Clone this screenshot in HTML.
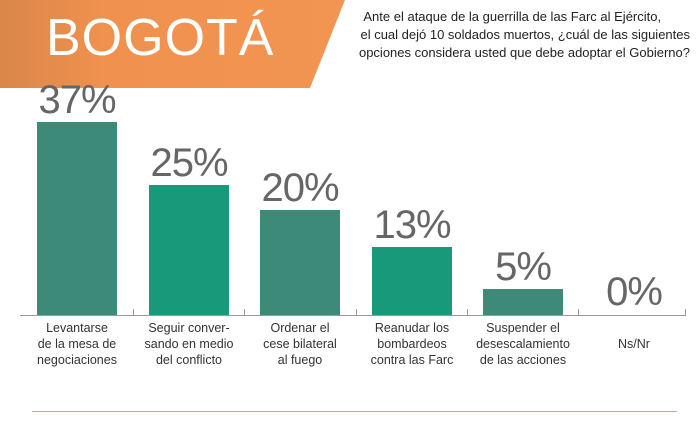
<!DOCTYPE html>
<html><head><style>
body{margin:0;width:700px;height:423px;background:#fff;position:relative;overflow:hidden;font-family:"Liberation Sans",sans-serif}
.b{position:absolute;width:80px}
.p{position:absolute;width:112px;text-align:center;font-size:40px;color:#666;font-weight:300;letter-spacing:-1px}
.l{position:absolute;width:112px;text-align:center;font-size:12.5px;line-height:16px;color:#333;top:320px}
.t{position:absolute;top:309px;width:1px;height:7px;background:#999}
</style></head><body>
<svg style="position:absolute;left:0;top:0" width="360" height="90"><defs><linearGradient id="g" x1="0" x2="1"><stop offset="0" stop-color="#d9874a"/><stop offset=".3" stop-color="#f0914e"/><stop offset="1" stop-color="#f39552"/></linearGradient></defs><polygon points="0,0 345,0 310,88 0,88" fill="url(#g)"/></svg>
<div style="position:absolute;left:46px;top:8px;font-size:52px;color:#fff;letter-spacing:1px">BOGOTÁ</div>
<div style="position:absolute;left:330px;top:8px;width:360px;text-align:right;font-size:13px;line-height:18px;color:#222">Ante el ataque de la guerrilla de las Farc al Ejército,&nbsp;&nbsp;&nbsp;&nbsp;&nbsp;&nbsp;&nbsp;&nbsp;<br>el cual dejó 10 soldados muertos, ¿cuál de las siguientes<br>opciones considera usted que debe adoptar el Gobierno?</div>
<div class="b" style="left:37px;top:122px;height:193px;background:#3d8a78"></div>
<div class="b" style="left:149px;top:185px;height:130px;background:#17997a"></div>
<div class="b" style="left:260px;top:210px;height:105px;background:#3d8a78"></div>
<div class="b" style="left:372px;top:247px;height:68px;background:#17997a"></div>
<div class="b" style="left:483px;top:289px;height:26px;background:#3d8a78"></div>
<div class="p" style="left:21px;top:78px">37%</div>
<div class="p" style="left:133px;top:141px">25%</div>
<div class="p" style="left:244px;top:166px">20%</div>
<div class="p" style="left:356px;top:203px">13%</div>
<div class="p" style="left:467px;top:245px">5%</div>
<div class="p" style="left:578px;top:270px">0%</div>
<div style="position:absolute;left:20px;top:315px;width:665px;height:1px;background:#999"></div>
<div class="t" style="left:133px"></div><div class="t" style="left:244px"></div><div class="t" style="left:356px"></div><div class="t" style="left:467px"></div><div class="t" style="left:578px"></div><div class="t" style="left:685px"></div>
<div class="l" style="left:21px">Levantarse<br>de la mesa de<br>negociaciones</div>
<div class="l" style="left:133px">Seguir conver-<br>sando en medio<br>del conflicto</div>
<div class="l" style="left:244px">Ordenar el<br>cese bilateral<br>al fuego</div>
<div class="l" style="left:356px">Reanudar los<br>bombardeos<br>contra las Farc</div>
<div class="l" style="left:467px">Suspender el<br>desescalamiento<br>de las acciones</div>
<div class="l" style="left:578px;top:336px">Ns/Nr</div>
<div style="position:absolute;left:32px;top:411px;width:645px;height:1px;background:#f29a60"></div>
</body></html>
